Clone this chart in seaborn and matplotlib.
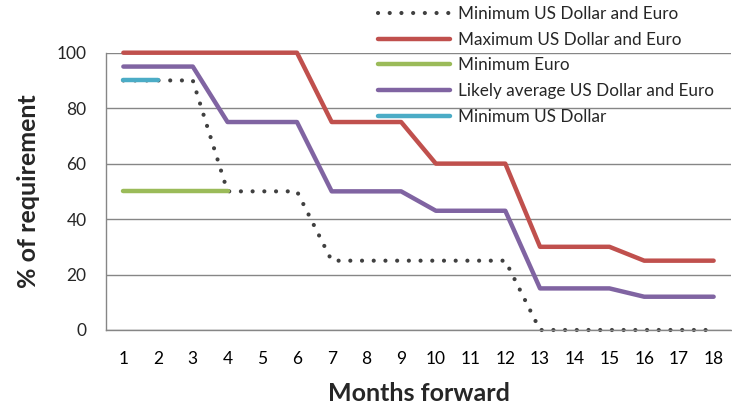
import numpy as np
import pandas as pd
import matplotlib
matplotlib.use("Agg")
import matplotlib.pyplot as plt
import seaborn as sns

# Months on the category axis
months = list(range(1, 19))

# Hedging ranges, % of requirement per month forward
min_usd_eur = [90, 90, 90, 50, 50, 50, 25, 25, 25, 25, 25, 25, 0, 0, 0, 0, 0, 0]
max_usd_eur = [100, 100, 100, 100, 100, 100, 75, 75, 75, 60, 60, 60, 30, 30, 30, 25, 25, 25]
min_eur = [50, 50, 50, 50]
likely_avg = [95, 95, 95, 75, 75, 75, 50, 50, 50, 43, 43, 43, 15, 15, 15, 12, 12, 12]
min_usd = [90, 90]

y_ticks = [0, 20, 40, 60, 80, 100]

sns.set_theme(style="white")
plt.rcParams["font.family"] = ["Lato", "DejaVu Sans"]

grey = "#868686"
fig = plt.figure(figsize=(7.32, 4.04), dpi=100)
ax = fig.add_axes([106 / 732, 1 - 330 / 404, 625 / 732, (330 - 52.7) / 404])

series = [
    ("Minimum US Dollar and Euro", min_usd_eur, "#404040", "dot"),
    ("Maximum US Dollar and Euro", max_usd_eur, "#C0504D", "solid"),
    ("Minimum Euro", min_eur, "#9BBB59", "solid"),
    ("Likely average US Dollar and Euro", likely_avg, "#8064A2", "solid"),
    ("Minimum US Dollar", min_usd, "#4BACC6", "solid"),
]

for name, vals, color, style in series:
    df = pd.DataFrame({"month": months[: len(vals)], "pct": vals})
    if style == "dot":
        sns.lineplot(data=df, x="month", y="pct", ax=ax, color=color, lw=3.0,
                     label=name, clip_on=False, dashes=False,
                     linestyle=(0, (0.01, 2.8)), solid_capstyle="round",
                     dash_capstyle="round")
    else:
        sns.lineplot(data=df, x="month", y="pct", ax=ax, color=color, lw=3.2,
                     label=name, clip_on=False, solid_capstyle="round")

ax.set_xlim(0.5, 18.5)
ax.set_ylim(0, 100)
ax.set_yticks(y_ticks)
ax.set_xticks(months)
ax.set_xticks(np.arange(0.5, 19, 1), minor=True)
ax.tick_params(axis="x", which="major", length=0, pad=15, labelsize=12.5, colors="black")
ax.tick_params(axis="x", which="minor", length=5, width=1, color=grey, direction="out")
ax.tick_params(axis="y", length=5, width=1, color=grey, direction="out", labelsize=12.5, pad=9)
ax.grid(axis="y", color=grey, lw=1)
ax.set_axisbelow(True)
for s in ("top", "right"):
    ax.spines[s].set_visible(False)
for s in ("left", "bottom"):
    ax.spines[s].set_color(grey)
    ax.spines[s].set_linewidth(1)

ax.set_xlabel("Months forward", fontsize=18, fontweight="bold", labelpad=11)
ax.set_ylabel("% of requirement", fontsize=18, fontweight="bold", labelpad=12)

handles, labels = ax.get_legend_handles_labels()
ax.get_legend().remove()
fig.legend(handles, labels, loc="upper left", bbox_to_anchor=(378 / 732, 1 - 6 / 404),
           frameon=False, fontsize=12.3, handlelength=4.2, handletextpad=0.5,
           labelspacing=0.57, borderpad=0, borderaxespad=0)

fig.savefig("out.png", dpi=100)
